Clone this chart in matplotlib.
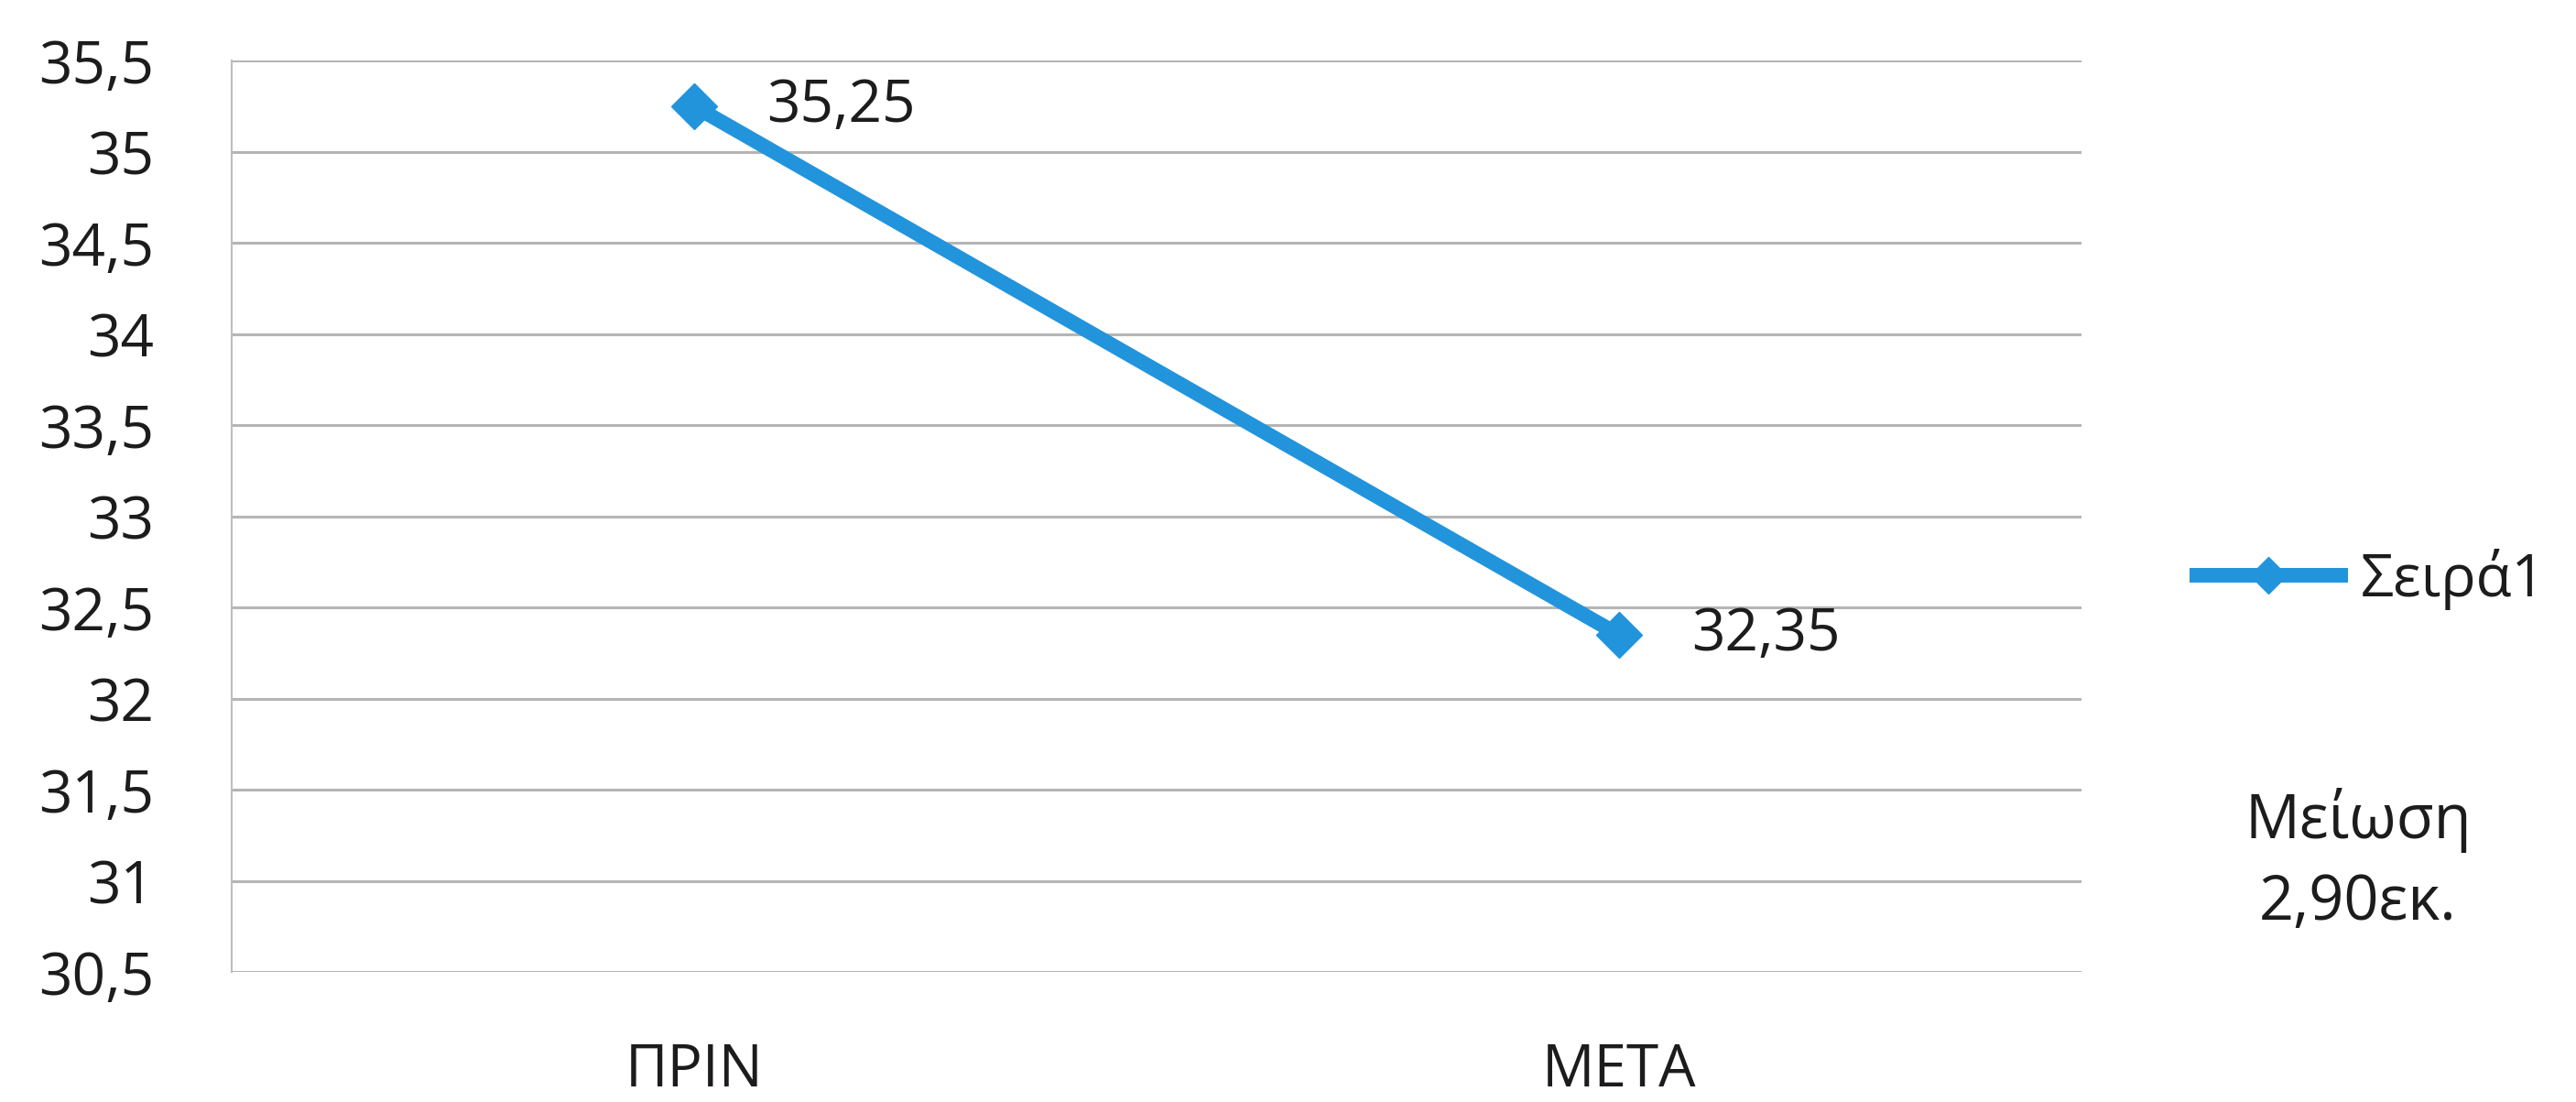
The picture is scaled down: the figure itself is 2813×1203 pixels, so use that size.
import matplotlib
matplotlib.use("Agg")
import matplotlib.pyplot as plt
import numpy as np

# Data
categories = ["ΠΡΙΝ", "ΜΕΤΑ"]
values = [35.25, 32.35]
series_name = "Σειρά1"
y_ticks = [30.5, 31, 31.5, 32, 32.5, 33, 33.5, 34, 34.5, 35, 35.5]
note_lines = ["Μείωση", "2,90εκ."]

plt.rcParams['font.family'] = ['Open Sans', 'DejaVu Sans']
TXT = "#1c1c1c"
FS = 46

def comma(v):
    s = ("%.2f" % v).rstrip("0").rstrip(".")
    return s.replace(".", ",")

fig = plt.figure(figsize=(28.13, 12.03), dpi=100)
ax = fig.add_axes([0.0899, 0.118, 0.718, 0.8271])

x = np.arange(len(categories))
blue = "#2194DC"
line, = ax.plot(x, values, color=blue, lw=11.5, marker="D", markersize=25,
                label=series_name, solid_capstyle="butt")

ax.set_xlim(-0.5, len(categories) - 0.5)
ax.set_ylim(y_ticks[0], y_ticks[-1])
ax.set_yticks(y_ticks)
ax.set_yticklabels([comma(t) for t in y_ticks], fontsize=FS, color=TXT)
ax.set_xticks(x)
ax.set_xticklabels(categories, fontsize=FS, color=TXT)
ax.tick_params(axis="both", length=0)
ax.tick_params(axis="y", pad=61)
ax.tick_params(axis="x", pad=55)

ax.grid(axis="y", color="#b5b5b5", lw=2.2)
ax.set_axisbelow(True)
for side in ["top", "right", "bottom"]:
    ax.spines[side].set_visible(False)
ax.spines["left"].set_color("#bdbdbd")
ax.spines["left"].set_linewidth(1.5)

# value labels beside each point
for xi, v in zip(x, values):
    ax.annotate(comma(v), (xi, v), xytext=(57, 0), textcoords="offset points",
                fontsize=FS, va="center", ha="left", color=TXT)

fig.legend(handles=[line], loc="center left", bbox_to_anchor=(0.850, 0.4746),
           frameon=False, fontsize=FS, handlelength=2.7, handletextpad=0.22,
           borderpad=0, borderaxespad=0, markerscale=0.8, labelcolor=TXT)

# reduction note, one text per line
fig.text(0.9154, 0.2394, note_lines[0], ha="center", va="baseline",
         fontsize=48, color=TXT)
fig.text(0.9154, 0.1654, note_lines[1], ha="center", va="baseline",
         fontsize=48, color=TXT)

fig.savefig("out.png", dpi=100, facecolor="white")
